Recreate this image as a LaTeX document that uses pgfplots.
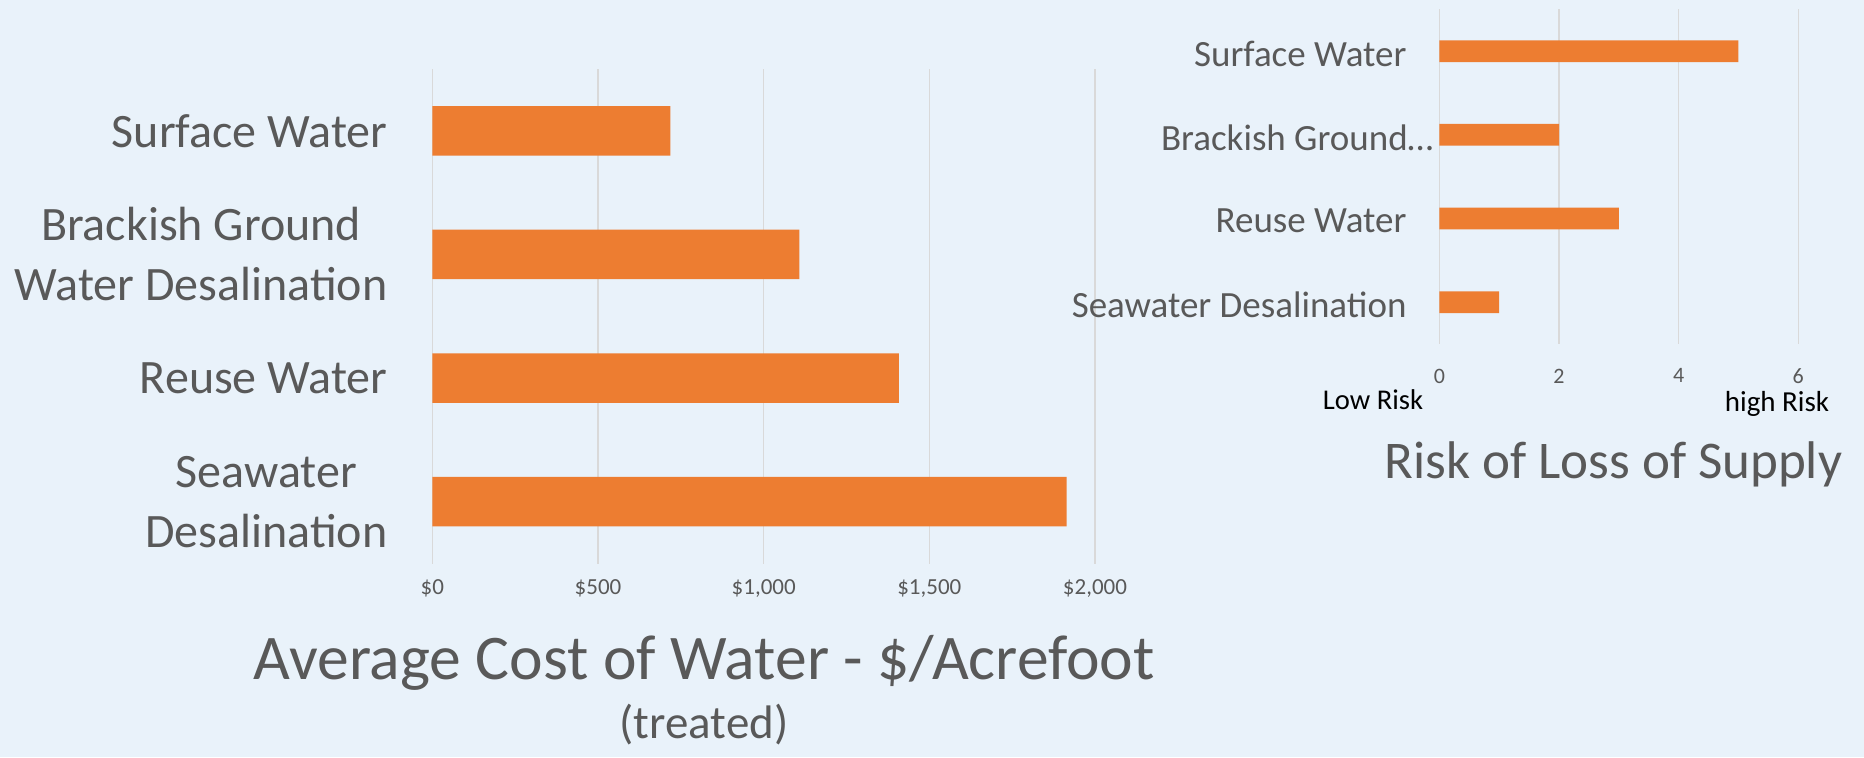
\documentclass[border=0pt]{standalone}
\usepackage{pgfplots}
\pgfplotsset{compat=1.18}
\usepackage{fontspec}
\setmainfont{Carlito}
\definecolor{bgc}{RGB}{233,242,250}
\definecolor{barc}{RGB}{237,125,49}
\definecolor{txtc}{RGB}{89,89,89}
\definecolor{gridc}{RGB}{217,217,217}
\begin{document}
\begin{tikzpicture}
\fill[bgc] (0,0) rectangle (932pt,-378.5pt);
% Left chart: average cost
\begin{axis}[
  at={(216.2pt,-34.5pt)}, anchor=north west,
  scale only axis, width=331.3pt, height=247.25pt,
  xmin=0, xmax=2000, ymin=-0.5, ymax=3.5, y dir=reverse,
  xtick={0,500,1000,1500,2000},
  xticklabels={{\$0},{\$500},{\$1,000},{\$1,500},{\$2,000}},
  ytick={0,1,2,3},
  yticklabels={Surface Water,{Brackish Ground\\Water Desalination},Reuse Water,{Seawater\\Desalination}},
  xmajorgrids=true, ymajorgrids=false,
  major grid style={draw=gridc, line width=0.6pt},
  axis line style={draw=none}, tick style={draw=none},
  xticklabel style={font=\fontsize{11.5}{13}\selectfont, text=txtc, inner sep=0pt, yshift=-8pt},
  yticklabel style={font=\fontsize{24}{30}\selectfont, text=txtc, align=center, inner sep=0pt, xshift=-18pt},
  xbar, bar width=0.4,
]
\addplot[fill=barc, draw=none] coordinates {(718,0) (1108,1) (1408,2) (1914,3)};
\end{axis}
% Right chart: risk
\begin{axis}[
  at={(719.7pt,-4.65pt)}, anchor=north west,
  scale only axis, width=179.4pt, height=167.35pt,
  xmin=0, xmax=6, ymin=-0.5, ymax=3.5, y dir=reverse,
  xtick={0,2,4,6},
  ytick={0,1,2,3},
  yticklabels={Surface Water,{Brackish Ground…\hspace*{-13.4pt}},Reuse Water,Seawater Desalination},
  xmajorgrids=true, ymajorgrids=false,
  major grid style={draw=gridc, line width=0.6pt},
  axis line style={draw=none}, tick style={draw=none},
  xticklabel style={font=\fontsize{11}{13}\selectfont, text=txtc, inner sep=0pt, yshift=-12.2pt},
  yticklabel style={font=\fontsize{18.5}{22}\selectfont, text=txtc, inner sep=0pt, xshift=-12pt, yshift=-1.3pt},
  /pgf/number format/assume math mode=true,
  xbar, bar width=0.26,
]
\addplot[fill=barc, draw=none] coordinates {(5,0) (2,1) (3,2) (1,3)};
\end{axis}
% Titles and annotations
\node[anchor=base, text=txtc, font=\fontsize{31.8}{36}\selectfont, inner sep=0pt] at (352pt,-339.7pt) {Average Cost of Water - \$/Acrefoot};
\node[anchor=base, text=txtc, font=\fontsize{23.5}{27}\selectfont, inner sep=0pt] at (352pt,-369pt) {(treated)};
\node[anchor=base, text=black, font=\fontsize{14.3}{16}\selectfont, inner sep=0pt] at (686.5pt,-204.5pt) {Low Risk};
\node[anchor=base, text=black, font=\fontsize{14.5}{16}\selectfont, inner sep=0pt] at (888.5pt,-205.5pt) {high Risk};
\node[anchor=base, text=txtc, font=\fontsize{26.5}{30}\selectfont, inner sep=0pt] at (806.75pt,-239pt) {Risk of Loss of Supply};
\end{tikzpicture}
\end{document}
